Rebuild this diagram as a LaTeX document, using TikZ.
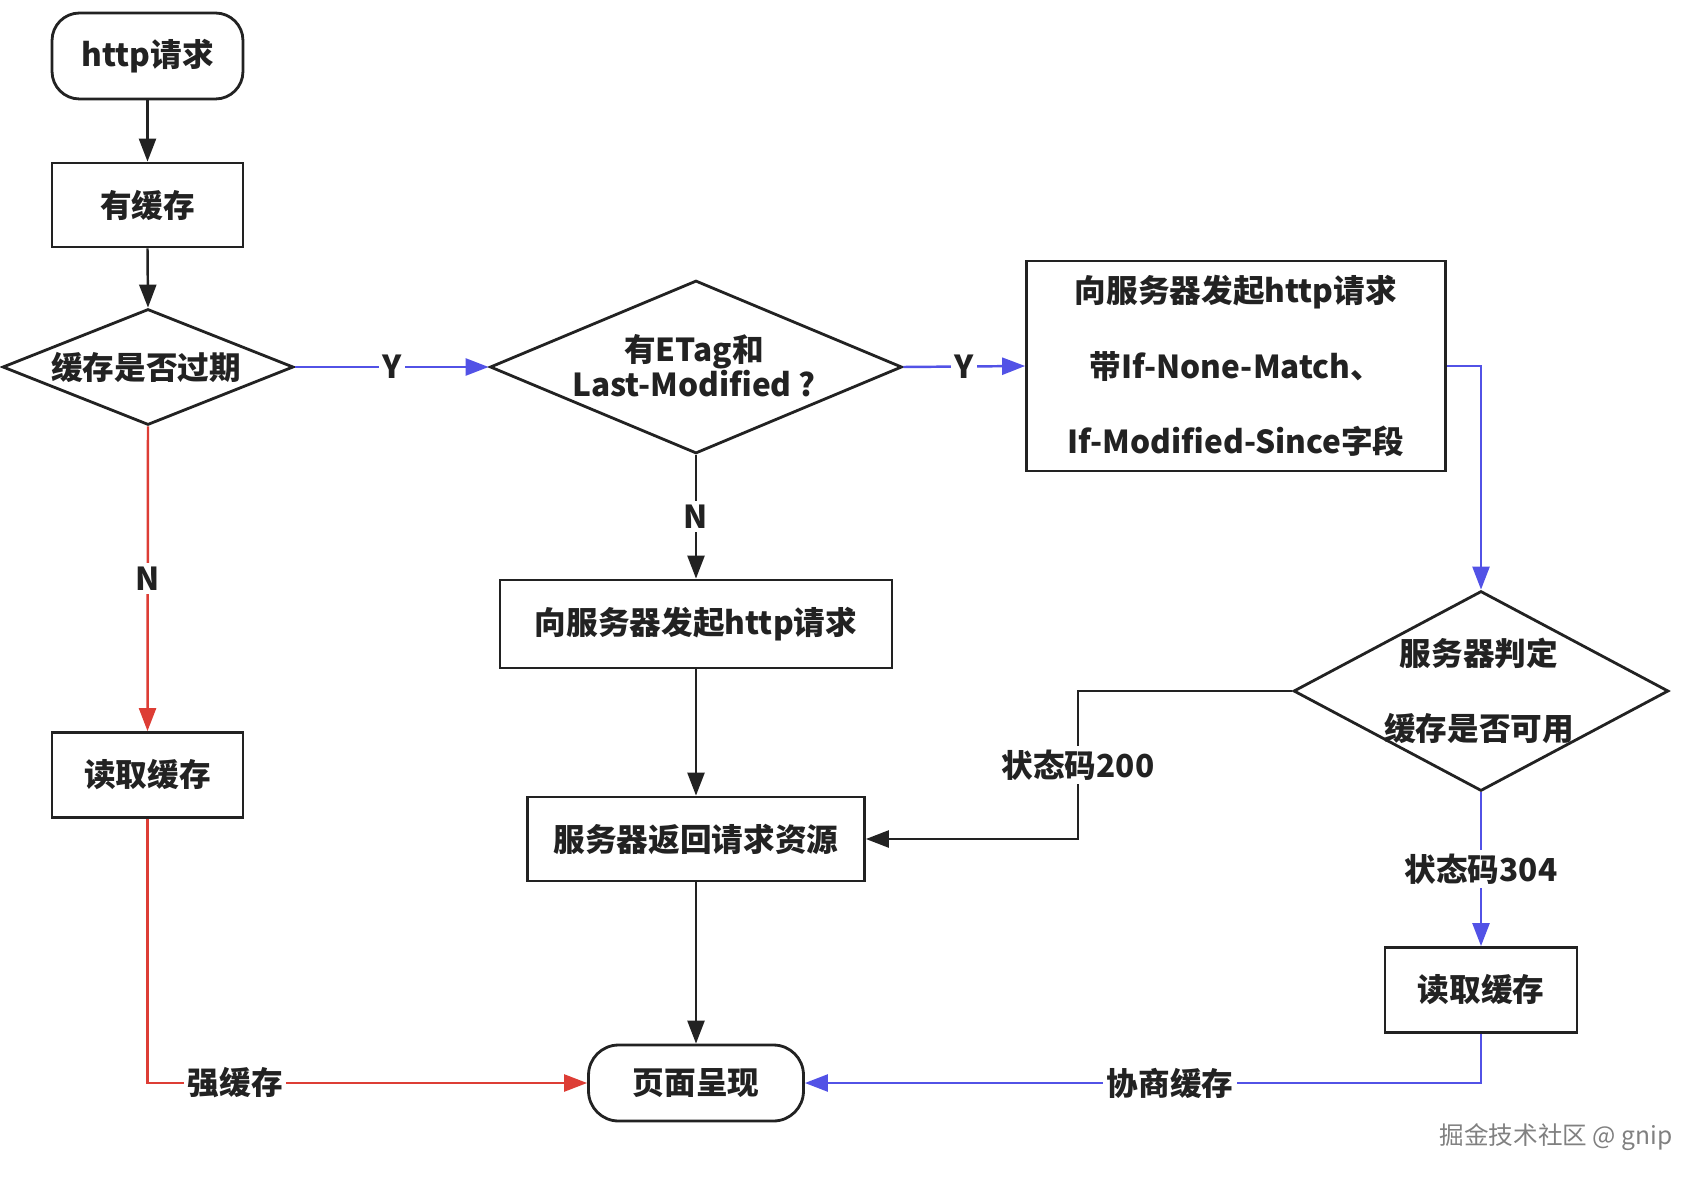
\documentclass[tikz,border=0pt]{standalone}
\usepackage{fontspec}
\setmainfont{Noto Sans CJK SC}
\usepackage{xcolor}
\usetikzlibrary{arrows.meta,shapes.geometric}
\definecolor{flowblue}{HTML}{5252E6}
\definecolor{flowred}{HTML}{DD3D35}
\definecolor{ink}{HTML}{222222}

\begin{document}
\begin{tikzpicture}[x=0.02cm, y=-0.02cm,
	font=\bfseries\fontsize{18}{21}\selectfont, text=ink,
	box/.style={draw=ink, line width=1.6pt, minimum width=3.82cm, minimum height=1.7cm, inner sep=0pt, align=center},
	roundbox/.style={box, rounded corners=0.55cm},
	decision/.style={draw=ink, diamond, line width=1.6pt, inner sep=0pt},
	flow/.style={draw=ink, line width=1.4pt, -{Triangle[length=0.46cm,width=0.34cm]}},
	yes/.style={flow, draw=flowblue, line width=1.4pt, -{Triangle[length=0.46cm,width=0.34cm,color=flowblue]}},
	no/.style={flow, draw=flowred, line width=1.4pt, -{Triangle[length=0.46cm,width=0.34cm,color=flowred]}},
	lbl/.style={fill=white, inner sep=2pt, text=ink}]
	\useasboundingbox (0,0) rectangle (1706,1182);

	% left column
	\node[roundbox, minimum height=1.72cm] (start) at (147.5,56) {http请求};
	\node[box, minimum height=1.68cm] (hascache) at (147.5,205) {有缓存};
	\node[decision, minimum width=5.82cm, minimum height=2.32cm] (expired) at (148,367) {};
	\node (expired-t) at (146,367) {缓存是否过期};
	\node[box] (readl) at (147.5,775) {读取缓存};

	% middle column
	\node[decision, minimum width=8.24cm, minimum height=3.46cm] (etag) at (696,367) {};
	\node[align=center, font=\bfseries\fontsize{18}{20}\selectfont] (etag-t) at (694,366) {有ETag和\\Last-Modified ?};
	\node[box, minimum width=7.84cm, minimum height=1.76cm] (req) at (696,624) {向服务器发起http请求};
	\node[box, minimum width=6.74cm, minimum height=1.68cm] (returns) at (696,839) {服务器返回请求资源};
	\node[roundbox, minimum width=4.3cm, minimum height=1.52cm, rounded corners=0.6cm] (render) at (696,1083) {页面呈现};

	% right column
	\node[box, minimum width=8.38cm, minimum height=4.2cm, font=\bfseries\fontsize{18}{43}\selectfont] (cond) at (1236,366) {向服务器发起http请求\\带If-None-Match、\\If-Modified-Since字段};
	\node[decision, minimum width=7.5cm, minimum height=4cm] (judge) at (1481,691) {};
	\node[align=center, font=\bfseries\fontsize{18}{43}\selectfont] (judge-t) at (1479,691) {服务器判定\\缓存是否可用};
	\node[box, minimum width=3.84cm] (readr) at (1481,990) {读取缓存};

	\node[font=\fontsize{14}{16}\selectfont, text=gray] (mark) at (1556,1137) {掘金技术社区 @ gnip};

	% connectors
	\draw[flow] (start.south) -- (hascache.north);
	\draw[flow] (hascache.south) -- (expired.north);
	\draw[yes] (expired.east) -- node[lbl] {Y} (etag.west);
	\draw[yes] (etag.east) -- node[lbl] {Y} (cond.west);
	\draw[yes] (cond.east) -| (judge.north);
	\draw[no] (expired.south) -- node[lbl] {N} (readl.north);
	\draw[no] (readl.south) |- node[lbl, pos=0.6] {强缓存} (render.west);
	\draw[flow] (etag.south) -- node[lbl] {N} (req.north);
	\draw[flow] (req.south) -- (returns.north);
	\draw[flow] (returns.south) -- (render.north);
	\coordinate (turn200) at (1078,839);
	\draw[flow] (judge.west) -| node[lbl, pos=0.75] {状态码200} (turn200) -- (returns.east);
	\draw[yes] (judge.south) -- node[lbl] {状态码304} (readr.north);
	\draw[yes] (readr.south) |- node[lbl, pos=0.73] {协商缓存} (render.east);
\end{tikzpicture}
\end{document}
